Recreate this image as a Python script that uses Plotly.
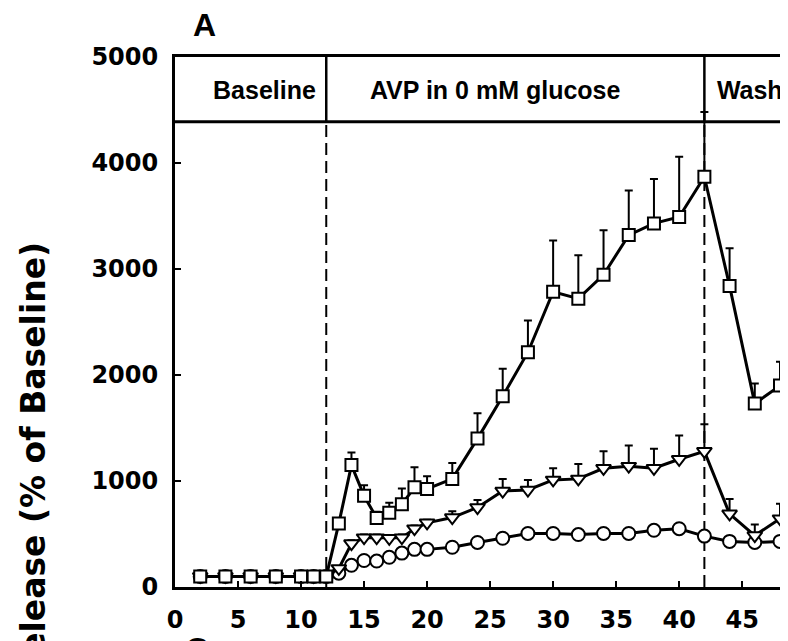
import plotly.graph_objects as go

# time points (min)
time_pts = [2, 4, 6, 8, 10, 11, 12, 13, 14, 15, 16, 17, 18, 19, 20, 22, 24,
            26, 28, 30, 32, 34, 36, 38, 40, 42, 44, 46, 48]

# squares
sq_vals = [100, 100, 100, 100, 100, 100, 100, 600, 1150, 860, 650, 700, 780, 940, 925,
           1020, 1400, 1800, 2215, 2785, 2720, 2945, 3320, 3430, 3490, 3870, 2840, 1730, 1900]
sq_err = [10, 10, 10, 10, 10, 10, 10, 0, 120, 100, 60, 95, 150, 190, 120,
          150, 240, 260, 300, 485, 410, 420, 420, 420, 570, 610, 355, 190, 225]

# triangles
tri_vals = [100, 100, 100, 100, 100, 100, 100, 175, 410, 465, 465, 460, 465, 550, 605,
            655, 750, 905, 915, 1010, 1020, 1120, 1140, 1120, 1205, 1280, 690, 485, 645]
tri_err = [10, 10, 10, 10, 10, 10, 10, 0, 30, 30, 30, 30, 30, 30, 30,
           60, 70, 115, 95, 110, 140, 160, 195, 185, 225, 255, 140, 105, 140]

# circles
circ_vals = [100, 100, 100, 100, 100, 100, 100, 130, 205, 250, 245, 280, 320, 355, 355,
             375, 420, 460, 505, 505, 495, 505, 505, 535, 550, 480, 430, 420, 430]
circ_err = [10, 10, 10, 10, 10, 10, 10, 10, 15, 15, 15, 15, 15, 15, 15,
            15, 20, 20, 20, 20, 20, 20, 20, 20, 20, 20, 20, 20, 20]

# phases in the header band
phase_labels = ["Baseline", "AVP in 0 mM glucose", "Wash"]
phase_label_x = [7.1, 25.4, 45.6]
phase_edges = [12, 42]

x_ticks = [0, 5, 10, 15, 20, 25, 30, 35, 40, 45]
y_ticks = [0, 1000, 2000, 3000, 4000, 5000]

X_MAX = 48
Y_MAX = 5000
BAND_LOW = 4390

fig = go.Figure()


def add_series(vals, errs, symbol, size):
    fig.add_trace(
        go.Scatter(
            x=time_pts,
            y=vals,
            mode="lines+markers",
            line=dict(color="black", width=3),
            marker=dict(symbol=symbol, size=size, color="white",
                        line=dict(color="black", width=2)),
            error_y=dict(type="data", symmetric=False, array=errs,
                         arrayminus=[0] * len(errs), color="black",
                         thickness=2, width=4),
            showlegend=False,
        )
    )


add_series(circ_vals, circ_err, "circle", 13)
add_series(tri_vals, tri_err, "triangle-down", 13)
add_series(sq_vals, sq_err, "square", 12)

# header labels, clipped by the plot box like the original
fig.add_trace(
    go.Scatter(
        x=phase_label_x,
        y=[4660] * len(phase_labels),
        mode="text",
        text=phase_labels,
        textposition="middle center",
        textfont=dict(family="Liberation Sans", size=25, color="black", weight="bold"),
        cliponaxis=True,
        showlegend=False,
    )
)

shapes = [
    dict(type="line", x0=0, x1=X_MAX, y0=BAND_LOW, y1=BAND_LOW,
         line=dict(color="black", width=3)),
]
for edge in phase_edges:
    shapes.append(dict(type="line", x0=edge, x1=edge, y0=BAND_LOW, y1=Y_MAX,
                       line=dict(color="black", width=2.5)))
    shapes.append(dict(type="line", x0=edge, x1=edge, y0=0, y1=BAND_LOW,
                       line=dict(color="black", width=2, dash="12px,6px"), layer="below"))

bold = dict(family="DejaVu Sans", size=24, color="black", weight="bold")

# page body has an 8px margin, so the figure is 8px smaller and margins shifted
fig.update_layout(
    width=782,
    height=633,
    margin=dict(l=167, r=7, t=49, b=41),
    plot_bgcolor="white",
    paper_bgcolor="white",
    shapes=shapes,
    xaxis=dict(
        range=[0, X_MAX], tickvals=x_ticks, ticks="inside", ticklen=6, tickwidth=2,
        tickcolor="black", showline=True, linewidth=3, linecolor="black", mirror=True,
        showgrid=False, zeroline=False, tickfont=bold, ticklabelstandoff=9,
    ),
    yaxis=dict(
        range=[0, Y_MAX], tickvals=y_ticks, ticks="inside", ticklen=6, tickwidth=2,
        tickcolor="black", showline=True, linewidth=3, linecolor="black", mirror=True,
        showgrid=False, zeroline=False, tickfont=bold, ticklabelstandoff=9,
    ),
    annotations=[
        dict(text="A", xref="paper", yref="paper", x=0.0495, y=1.06,
             xanchor="center", yanchor="middle", showarrow=False,
             font=dict(family="Liberation Sans", size=32, color="black", weight="bold")),
        dict(text="Release (% of Baseline)", xref="paper", yref="paper",
             x=-0.234, y=0.655, yanchor="top", xanchor="center", textangle=-90,
             showarrow=False,
             font=dict(family="DejaVu Sans", size=33, color="black", weight="bold")),
        dict(text="C", xref="paper", yref="paper", x=0.036, y=-0.08,
             xanchor="center", yanchor="top", showarrow=False,
             font=dict(family="Liberation Sans", size=33, color="black", weight="bold")),
    ],
)

fig.write_html("out.html")
